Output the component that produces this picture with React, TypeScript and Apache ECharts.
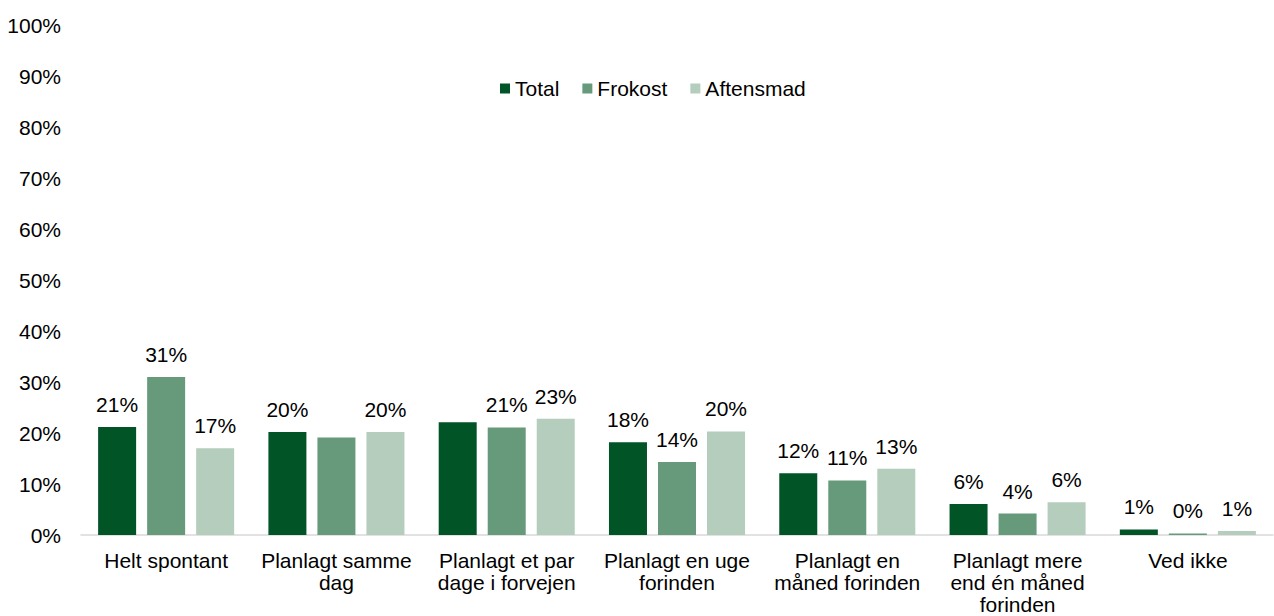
import React, { useEffect, useRef } from "react";
import * as echarts from "echarts";

const categories = [
  "Helt spontant",
  "Planlagt samme\ndag",
  "Planlagt et par\ndage i forvejen",
  "Planlagt en uge\nforinden",
  "Planlagt en\nmåned forinden",
  "Planlagt mere\nend én måned\nforinden",
  "Ved ikke",
];
const seriesNames = ["Total", "Frokost", "Aftensmad"];
const totalValues = [21.2, 20.2, 22.1, 18.2, 12.1, 6.1, 1.1];
const frokostValues = [31.0, 19.1, 21.1, 14.3, 10.7, 4.2, 0.3];
const aftensmadValues = [17.0, 20.2, 22.8, 20.3, 13.0, 6.4, 0.8];
// labels hidden in the reference for these (series index, category index)
const hiddenLabels: [number, number][] = [
  [1, 1],
  [0, 2],
];
const yTicks = [0, 10, 20, 30, 40, 50, 60, 70, 80, 90, 100];
const colors = ["#005426", "#679a7a", "#b4cdbd"];

export default function App() {
  const ref = useRef<HTMLDivElement>(null);
  useEffect(() => {
    document.body.style.margin = "0";
    if (!ref.current) return;
    const chart = echarts.init(ref.current, undefined, { renderer: "svg" });
    const all = [totalValues, frokostValues, aftensmadValues];
    const font = "Liberation Sans, Arial, sans-serif";
    const fs = 21;
    chart.setOption({
      animation: false,
      textStyle: { fontFamily: font },
      legend: {
        data: seriesNames,
        top: 73,
        left: 495,
        itemWidth: 10,
        itemHeight: 10,
        itemGap: 23,
        icon: "rect",
        textStyle: { fontSize: fs, color: "#000", fontFamily: font },
      },
      grid: { left: 81, right: 1, top: 25, bottom: 81 },
      xAxis: {
        type: "category",
        data: categories,
        axisLine: { lineStyle: { color: "#d9d9d9", width: 1.5 } },
        axisTick: { show: false },
        axisLabel: {
          color: "#000",
          fontSize: fs,
          lineHeight: 22,
          margin: 14,
          interval: 0,
          fontFamily: font,
        },
      },
      yAxis: {
        type: "value",
        min: yTicks[0],
        max: yTicks[yTicks.length - 1],
        interval: 10,
        splitLine: { show: false },
        axisLine: { show: false },
        axisTick: { show: false },
        axisLabel: {
          formatter: "{value}%",
          color: "#000",
          fontSize: fs,
          margin: 20,
          fontFamily: font,
        },
      },
      series: seriesNames.map((name, si) => ({
        name,
        type: "bar",
        barWidth: 38,
        barGap: "29%",
        itemStyle: { color: colors[si] },
        label: {
          show: true,
          position: "top",
          distance: 12,
          color: "#000",
          fontSize: fs,
          fontFamily: font,
          formatter: (p: any) => Math.round(p.value) + "%",
        },
        data: all[si].map((v, ci) => {
          const hide = hiddenLabels.some(([s, c]) => s === si && c === ci);
          return hide ? { value: v, label: { show: false } } : v;
        }),
      })),
    });
    return () => chart.dispose();
  }, []);
  return <div ref={ref} style={{ width: 1274, height: 616 }} />;
}
